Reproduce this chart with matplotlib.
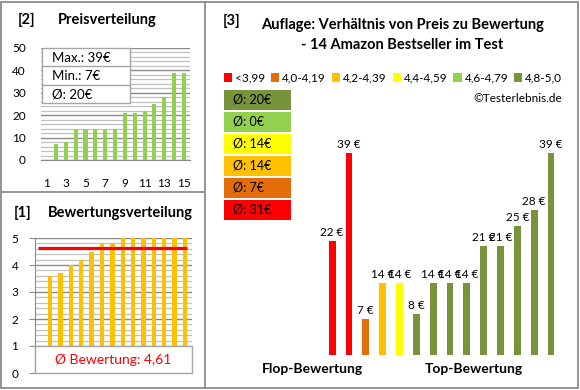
# -*- coding: utf-8 -*-
''' Preis / Bewertung overview, 14 Amazon Bestseller. '''

import numpy as np
import matplotlib
matplotlib.use('Agg')
import matplotlib.pyplot as plt
from matplotlib.patches import Rectangle, Patch

plt.rcParams['font.family'] = ['Lato', 'DejaVu Sans']

# data, in the order of the right chart (sorted by rating)
prices = [22, 39, 7, 14, 14, 8, 14, 14, 14, 21, 21, 25, 28, 39]
ratings = [3.6, 3.7, 4.0, 4.2, 4.5, 4.8, 4.8, 5.0, 5.0, 5.0, 5.0, 5.0, 5.0, 5.0]
price_ticks = [1, 3, 5, 7, 9, 11, 13, 15]
group_labels = ['<3,99', '4,0-4,19', '4,2-4,39', '4,4-4,59', '4,6-4,79', '4,8-5,0']
group_bins = [0, 4.0, 4.2, 4.4, 4.6, 4.8, 5.01]
group_colors = ['#FF0000', '#E46C0A', '#FFC000', '#FFFF00', '#92D050', '#77933C']

W, H = 580, 390
GRID_MAJ = '#8a8a8a'
GRID_MIN = '#c0c0c0'
FRAME = '#8c8c8c'


def px(x, y, w, h):
    # pixel box (top-left origin) -> figure fraction
    return [x / W, 1 - (y + h) / H, w / W, h / H]


def round_half_up(v):
    return int(np.floor(v + 0.5))


fig = plt.figure(figsize=(W / 100, H / 100), dpi=100)
fig.patch.set_facecolor('white')

# frames (behind everything)
frame = fig.add_axes([0, 0, 1, 1], zorder=-1)
frame.set_xlim(0, W)
frame.set_ylim(H, 0)
frame.axis('off')
frame.add_patch(Rectangle((1, 2), 577, 386, fill=False, ec=FRAME, lw=1.3))
frame.plot([205, 205], [2, 388], color=FRAME, lw=1.3)
frame.plot([1, 205], [192, 192], color=FRAME, lw=1.3)

# ---------------------------------------------------------------- [2]
prices_sorted = np.sort(prices)
pos2 = np.arange(2, len(prices_sorted) + 2)

ax2 = fig.add_axes(px(41, 48, 149, 112))
ax2.bar(pos2, prices_sorted, width=0.42, color='#92D050', zorder=3)
ax2.set_xlim(0.49, 15.61)
ax2.set_ylim(0, 50)
ax2.set_yticks(np.arange(0, 51, 10))
ax2.set_yticks(np.arange(0, 51, 2), minor=True)
ax2.set_xticks(price_ticks)
ax2.grid(axis='y', which='minor', color=GRID_MIN, lw=0.9, zorder=0)
ax2.grid(axis='y', which='major', color=GRID_MAJ, lw=1.0, zorder=1)
ax2.tick_params(axis='y', which='both', length=0, pad=11, labelsize=8.5)
ax2.tick_params(axis='x', length=0, pad=13, labelsize=8.5)
for s in ['top', 'right', 'left']:
    ax2.spines[s].set_visible(False)
ax2.spines['bottom'].set_color(GRID_MAJ)

fig.text(18 / W, 1 - 20 / H, '[2]', fontsize=10.5, fontweight='bold', va='center')
fig.text(58 / W, 1 - 20 / H, 'Preisverteilung', fontsize=10.5, fontweight='bold', va='center')

# overlay for boxes drawn on top of the charts
over = fig.add_axes([0, 0, 1, 1], zorder=10)
over.set_xlim(0, W)
over.set_ylim(H, 0)
over.axis('off')
over.patch.set_alpha(0)

# Max / Min / mean table
rows = ['Max.: %d€' % max(prices), 'Min.: %d€' % min(prices),
        'Ø: %d€' % round_half_up(np.mean(prices))]
over.add_patch(Rectangle((42, 48), 88, 55, fc='white', ec='#a6a6a6', lw=1.0))
for i, txt in enumerate(rows):
    y0 = 48 + i * 18.3
    if i > 0:
        over.plot([42, 130], [y0, y0], color='#a6a6a6', lw=1.0)
    over.text(52, y0 + 9.5, txt, fontsize=9.5, va='center')

# ---------------------------------------------------------------- [1]
ratings_sorted = np.sort(ratings)
pos1 = np.arange(2, len(ratings_sorted) + 2)

ax1 = fig.add_axes(px(35, 238, 157, 135))
ax1.bar(pos1, ratings_sorted, width=0.42, color='#FFC000', zorder=3)
avg = np.mean(ratings)
ax1.hlines(avg, 0.85, 15.2, color='#FF0000', lw=2.3, zorder=4)
ax1.set_xlim(0.556, 15.67)
ax1.set_ylim(0, 5)
ax1.set_yticks(np.arange(0, 6, 1))
ax1.set_yticks(np.arange(0, 5.01, 0.2), minor=True)
ax1.set_xticks([])
ax1.grid(axis='y', which='minor', color=GRID_MIN, lw=0.9, zorder=0)
ax1.grid(axis='y', which='major', color=GRID_MAJ, lw=1.0, zorder=1)
ax1.tick_params(axis='y', which='major', length=4, color=GRID_MAJ, pad=8, labelsize=8.5)
ax1.tick_params(axis='y', which='minor', length=0)
for s in ['top', 'right', 'bottom']:
    ax1.spines[s].set_visible(False)
ax1.spines['left'].set_color(GRID_MAJ)
ax1.add_patch(Rectangle((0, 0), 1, 0.2, transform=ax1.transAxes, fc='white',
                        ec='#a6a6a6', lw=1.0, zorder=5, clip_on=False))
ax1.text(0.5, 0.1, 'Ø Bewertung: %s' % ('%.2f' % avg).replace('.', ','),
         transform=ax1.transAxes, ha='center', va='center', color='#FF0000',
         fontsize=10, zorder=6)

fig.text(14 / W, 1 - 213 / H, '[1]', fontsize=10.5, fontweight='bold', va='center')
fig.text(48 / W, 1 - 213 / H, 'Bewertungsverteilung', fontsize=10.5, fontweight='bold', va='center')

# ---------------------------------------------------------------- [3]
group_idx = np.digitize(ratings, group_bins) - 1
bar_colors = [group_colors[g] for g in group_idx]
pos3 = np.arange(len(prices))

ax3 = fig.add_axes(px(215, 122, 355, 233))
ax3.bar(pos3, prices, width=0.4, color=bar_colors)
for x, v in zip(pos3, prices):
    ax3.annotate('%d €' % v, (x, v), xytext=(0, 2), textcoords='offset points',
                 ha='center', va='bottom', fontsize=8.5)
ax3.set_xlim(-6.96, 14.13)
ax3.set_ylim(0, 45)
ax3.axis('off')

fig.text(223 / W, 1 - 21 / H, '[3]', fontsize=10.5, fontweight='bold', va='center')
fig.text(403 / W, 1 - 25 / H, 'Auflage: Verhältnis von Preis zu Bewertung',
         fontsize=10.5, fontweight='bold', ha='center', va='center')
fig.text(402 / W, 1 - 45 / H, '- 14 Amazon Bestseller im Test',
         fontsize=10.5, fontweight='bold', ha='center', va='center')

handles = [Patch(fc=c, ec='none') for c in group_colors]
fig.legend(handles, group_labels, loc='center', bbox_to_anchor=(393 / W, 1 - 78 / H),
           ncol=6, frameon=False, fontsize=8.5, handlelength=0.7, handleheight=0.7,
           handletextpad=0.25, columnspacing=0.5, borderpad=0)

fig.text(562 / W, 1 - 98 / H, '©Testerlebnis.de', fontsize=8.5, ha='right', va='center')

# mean price per rating group, top row = best group
for i, g in enumerate(range(len(group_colors) - 1, -1, -1)):
    sel = [p for p, gi in zip(prices, group_idx) if gi == g]
    mean_g = round_half_up(np.mean(sel)) if sel else 0
    y0 = 90 + i * 22
    over.add_patch(Rectangle((224, y0), 67, 20, fc=group_colors[g], ec='none'))
    over.text(233, y0 + 10, 'Ø: %d€' % mean_g, fontsize=9, va='center')

fig.text(312 / W, 1 - 369 / H, 'Flop-Bewertung', fontsize=10, fontweight='bold',
         ha='center', va='center')
fig.text(474 / W, 1 - 369 / H, 'Top-Bewertung', fontsize=10, fontweight='bold',
         ha='center', va='center')

fig.savefig('out.png', dpi=100)
